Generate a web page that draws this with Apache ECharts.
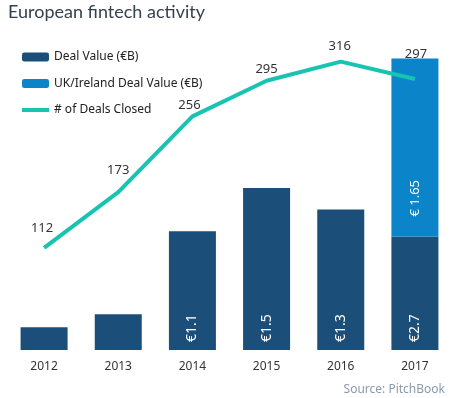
<!DOCTYPE html>
<html>
<head>
<meta charset="utf-8">
<style>
  html, body { margin: 0; padding: 0; background: #fff; }
  #chart { width: 452px; height: 398px; }
</style>
<script src="https://cdn.jsdelivr.net/npm/echarts@6/dist/echarts.min.js"></script>
</head>
<body>
<div id="chart"></div>
<script>
// 数据
var years = ['2012', '2013', '2014', '2015', '2016', '2017'];
var dealValue = [0.21, 0.33, 1.1, 1.5, 1.3, 1.05];      // €B, 2017 = 2.7 total - 1.65 UK/Ireland
var ukIrelandValue = [null, null, null, null, null, 1.65];
var dealsClosed = [112, 173, 256, 295, 316, 297];
var dealLabels = ['', '', '€1.1', '€1.5', '€1.3', '€2.7'];
var ukLabels = ['', '', '', '', '', '€ 1.65'];

(function () {
	var myChart = echarts.init(document.getElementById('chart'));
	var font = 'Noto Sans';
	// 折线标签的位置微调（与原图一致）
	var labelShift = [[-2, -8], [0, -10], [-3, 0], [0, 0], [-1, -4], [1, -13]];
	var option = {
		animation: false,
		color: ['#1b4f7a', '#0b84c9', '#17c4b1'],
		title: {
			text: 'European fintech activity',
			left: 3,
			top: 0,
			padding: [3, 5],
			textStyle: {
				fontFamily: 'Lato',
				fontSize: 18,
				fontWeight: 'normal',
				color: '#34414e'
			}
		},
		legend: {
			orient: 'vertical',
			left: 15,
			top: 46,
			itemWidth: 27,
			itemHeight: 9,
			itemGap: 14.5,
			textStyle: {
				fontFamily: font,
				fontSize: 12,
				color: '#222'
			},
			data: ['Deal Value (€B)', 'UK/Ireland Deal Value (€B)', {
				name: '# of Deals Closed',
				itemStyle: { opacity: 0 },
				lineStyle: { width: 4 }
			}]
		},
		graphic: [{
			type: 'text',
			right: 7,
			bottom: 2,
			style: {
				text: 'Source: PitchBook',
				fontFamily: font,
				fontSize: 12,
				fill: '#8b9aab'
			}
		}],
		grid: {
			left: 7,
			right: 0,
			top: 26,
			bottom: 48
		},
		xAxis: {
			type: 'category',
			data: years,
			axisLine: { show: false },
			axisTick: { show: false },
			axisLabel: {
				margin: 11,
				fontFamily: font,
				fontSize: 12,
				color: '#333'
			}
		},
		yAxis: [{
			type: 'value',
			min: 0,
			max: 3,
			show: false
		}, {
			type: 'value',
			min: 0,
			max: 355,
			show: false
		}],
		series: [{
			name: 'Deal Value (€B)',
			type: 'bar',
			stack: 'deal',
			barWidth: 47,
			data: dealValue,
			itemStyle: { color: '#1b4f7a' },
			label: {
				show: true,
				position: 'insideBottom',
				distance: 8,
				rotate: 90,
				align: 'left',
				verticalAlign: 'middle',
				fontFamily: font,
				fontSize: 14,
				color: '#fff',
				formatter: function (p) { return dealLabels[p.dataIndex]; }
			}
		}, {
			name: 'UK/Ireland Deal Value (€B)',
			type: 'bar',
			stack: 'deal',
			barWidth: 47,
			data: ukIrelandValue,
			itemStyle: { color: '#0b84c9' },
			label: {
				show: true,
				position: 'insideBottom',
				distance: 20,
				rotate: 90,
				align: 'left',
				verticalAlign: 'middle',
				fontFamily: font,
				fontSize: 13,
				color: '#fff',
				formatter: function (p) { return ukLabels[p.dataIndex]; }
			}
		}, {
			name: '# of Deals Closed',
			type: 'line',
			yAxisIndex: 1,
			data: dealsClosed.map(function (v, i) {
				return { value: v, label: { offset: labelShift[i] } };
			}),
			symbol: 'circle',
			symbolSize: 0,
			lineStyle: { width: 4, color: '#17c4b1' },
			itemStyle: { color: '#17c4b1' },
			label: {
				show: true,
				position: 'top',
				distance: 5,
				fontFamily: font,
				fontSize: 13,
				color: '#333'
			}
		}]
	};
	myChart.setOption(option);
})();
</script>
</body>
</html>
